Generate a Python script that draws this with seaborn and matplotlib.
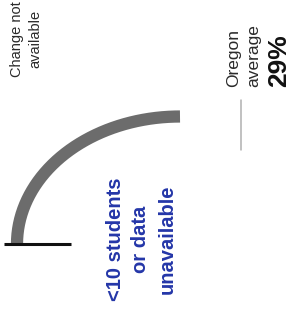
import numpy as np
import pandas as pd
import matplotlib
matplotlib.use('Agg')
import matplotlib.pyplot as plt
import seaborn as sns

# values
dial_span = [0, 50]          # percent of the half dial filled by the grey arc
dial_radius = 1.0
needle_r = [0.67, 1.08]      # short black bar at the start of the dial
avg_value = 29               # Oregon average (%)
avg_line_x = [0.375, 0.375]
avg_line_y = [0.74, 1.13]

nochange_label = 'Change not\navailable'
avg_label = ['Oregon', 'average', f'{avg_value}%']
na_label = '<10 students\nor data\nunavailable'

sns.set_theme(style='white')
plt.rcParams['font.family'] = ['Liberation Sans', 'DejaVu Sans']

fig = plt.figure(figsize=(2.95, 3.2), dpi=100)
ax = fig.add_axes([0, 0, 1, 1])

# dial arc (half dial drawn from 180 deg towards 0 deg)
pct = np.linspace(dial_span[0], dial_span[1], 200)
theta = np.deg2rad(180 - pct * 1.8)
arc = pd.DataFrame({'x': dial_radius * np.cos(theta), 'y': dial_radius * np.sin(theta)})
sns.lineplot(data=arc, x='x', y='y', sort=False, ax=ax, color='#6c6c6c',
             linewidth=8.8, solid_capstyle='butt')

# black bar at the dial start
sns.lineplot(x=[-needle_r[1], -needle_r[0]], y=[0, 0], ax=ax, color='#111111',
             linewidth=2.2, solid_capstyle='butt')

# Oregon average leader line
ax.plot(avg_line_x, avg_line_y, color='#b0b0b0', linewidth=1.1)

# pixel-matched limits: centre at (180, 244), radii 163 x 127.5 px
ax.set_xlim(-180 / 163, (295 - 180) / 163)
ax.set_ylim((244 - 320) / 127.5, 244 / 127.5)
ax.axis('off')

def fx(px):
    return px / 295

def fy(py):
    return 1 - py / 320

ax.text(fx(26), fy(39), nochange_label, rotation=90, ha='center', va='center',
        multialignment='center', fontsize=10.5, linespacing=1.4,
        color='#2a2a2a', transform=ax.transAxes)

ax.text(fx(233.5), fy(87), avg_label[0], rotation=90, ha='center', va='bottom',
        fontsize=12.5, color='#2a2a2a', transform=ax.transAxes)
ax.text(fx(254), fy(87), avg_label[1], rotation=90, ha='center', va='bottom',
        fontsize=12.5, color='#2a2a2a', transform=ax.transAxes)
ax.text(fx(279), fy(87), avg_label[2], rotation=90, ha='center', va='bottom',
        fontsize=19, fontweight='bold', color='#111111', transform=ax.transAxes)

ax.text(fx(141), fy(239), na_label, rotation=90, ha='center', va='center',
        multialignment='center', fontsize=14.5, fontweight='bold', linespacing=1.45,
        color='#2436a8', transform=ax.transAxes)

fig.savefig('out.png', dpi=100, facecolor='white')
